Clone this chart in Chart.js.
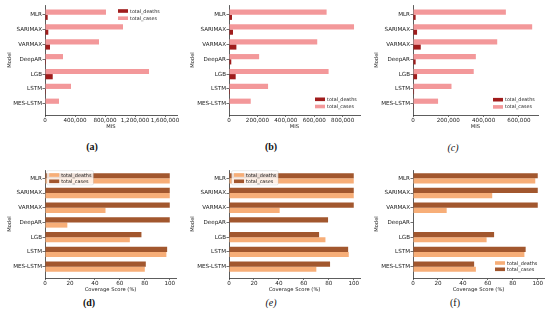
<!DOCTYPE html>
<html>
<head>
<meta charset="utf-8">
<script src="https://cdn.jsdelivr.net/npm/chart.js@4.4.0/dist/chart.umd.min.js"></script>
<style>
  body { margin: 0; background: #fff; }
  #fig { position: relative; width: 550px; height: 322px; overflow: hidden; background: #fff; }
  canvas { position: absolute; }
  .cap { position: absolute; font-family: "Liberation Serif", serif; font-size: 10px; line-height: 10px; color: #111; transform: translateX(-50%); }
</style>
</head>
<body>
<div id="fig">
  <div class="cap" style="left:92px;top:142px;font-weight:bold">(a)</div>
  <div class="cap" style="left:271px;top:142px;font-weight:bold">(b)</div>
  <div class="cap" style="left:453px;top:143px;font-style:italic">(c)</div>
  <div class="cap" style="left:89px;top:298px;font-weight:bold">(d)</div>
  <div class="cap" style="left:271px;top:298px;font-style:italic">(e)</div>
  <div class="cap" style="left:455px;top:298px">(f)</div>
</div>
<script>
const models = ["MLR", "SARIMAX", "VARMAX", "DeepAR", "LGB", "LSTM", "MES-LSTM"];

// MIS, panels (a) (b) (c)
const misDeathsA = [36000, 44000, 67000, 13000, 103000, 12000, 6000];
const misCasesA = [813000, 1040000, 720000, 240000, 1387000, 347000, 187000];
const misDeathsB = [21000, 28000, 52000, 16000, 47000, 7000, 5000];
const misCasesB = [687000, 880000, 621000, 212000, 701000, 275000, 153000];
const misDeathsC = [15000, 23000, 44000, 15000, 23000, 6000, 4000];
const misCasesC = [526000, 675000, 477000, 356000, 344000, 218000, 142000];

// Coverage score (%), panels (d) (e) (f)
const covDeathsD = [100, 100, 48.5, 17.9, 68, 97.3, 80];
const covCasesD = [100, 100, 100, 100, 77.3, 97.9, 80.8];
const covDeathsE = [100, 100, 40.6, 0, 77.3, 96, 70];
const covCasesE = [100, 100, 100, 79.4, 72.2, 95.5, 81];
const covDeathsF = [98, 63.5, 27, 0, 59, 89.3, 50.4];
const covCasesF = [100, 100, 100, 0, 65, 90.3, 49];

const misTicksA = [0, 400000, 800000, 1200000, 1600000];
const misTicksB = [0, 200000, 400000, 600000, 800000];
const misTicksC = [0, 200000, 400000, 600000];
const covTicks = [0, 20, 40, 60, 80, 100];

const FONT = "DejaVu Sans";
const AXIS = "#333";
const TXT = "#1a1a1a";

// legend drawn inside the axes, like matplotlib
const boxLegend = {
  id: "boxLegend",
  afterDraw(chart, args, o) {
    const { ctx, chartArea: a } = chart;
    const items = [1, 0].map(i => chart.data.datasets[i]);
    ctx.save();
    ctx.font = o.size + "px '" + FONT + "'";
    const tw = Math.max(...items.map(d => ctx.measureText(d.label).width));
    const L = a.left + o.x, T = a.top + o.y;
    const w = 14.5 + tw + 2, h = 4.3 + (items.length - 1) * o.sp + 3.6;
    ctx.beginPath();
    ctx.roundRect(L, T, w, h, 1.5);
    ctx.fillStyle = "rgba(255,255,255,0.8)";
    ctx.fill();
    ctx.strokeStyle = o.frame;
    ctx.lineWidth = 0.6;
    ctx.stroke();
    items.forEach((d, i) => {
      const cy = T + 4.3 + i * o.sp;
      ctx.fillStyle = d.backgroundColor;
      ctx.fillRect(L + 2.5, cy - 1.8, 10, 3.6);
      ctx.fillStyle = TXT;
      ctx.textBaseline = "middle";
      ctx.fillText(d.label, L + 14.5, cy + 0.3);
    });
    ctx.restore();
  }
};

function panel(p) {
  const cv = document.createElement("canvas");
  cv.width = p.w; cv.height = p.h;
  cv.style.left = p.left + "px"; cv.style.top = p.top + "px";
  document.getElementById("fig").appendChild(cv);
  const tickFont = { family: FONT, size: 5.6 };
  const titleFont = { family: FONT, size: 5.2, lineHeight: 1 };
  new Chart(cv, {
    type: "bar",
    data: {
      datasets: [
        { label: "total_cases", data: p.cases.map((v, i) => ({ x: v, y: i })), backgroundColor: p.colors[1] },
        { label: "total_deaths", data: p.deaths.map((v, i) => ({ x: v, y: i })), backgroundColor: p.colors[0] }
      ]
    },
    plugins: [boxLegend],
    options: {
      indexAxis: "y",
      responsive: false,
      animation: false,
      devicePixelRatio: 1,
      categoryPercentage: 0.7,
      barPercentage: 1,
      layout: { padding: { left: 0, top: p.padTop, right: p.padRight, bottom: p.padBottom } },
      plugins: {
        legend: { display: false },
        tooltip: { enabled: false },
        boxLegend: p.legend
      },
      scales: {
        x: {
          type: "linear",
          min: 0,
          max: p.max,
          afterBuildTicks: s => { s.ticks = p.ticks.map(v => ({ value: v })); },
          ticks: { callback: v => v.toLocaleString("en-US"), maxRotation: 0, autoSkip: false, font: tickFont, color: TXT, padding: 0.5 },
          grid: { drawOnChartArea: false, tickLength: 2, tickColor: AXIS, tickWidth: 0.7 },
          border: { color: AXIS, width: 0.8 },
          title: { display: true, text: p.title, font: titleFont, color: TXT, padding: 0 },
          afterFit: s => { s.height = 14; s.paddingLeft = 0; s.paddingRight = 0; }
        },
        y: {
          type: "linear",
          reverse: true,
          offset: false,
          min: p.ymin,
          max: p.ymax,
          afterBuildTicks: s => { s.ticks = models.map((m, i) => ({ value: i })); },
          ticks: { callback: v => models[v], autoSkip: false, font: tickFont, color: TXT, padding: 0.5 },
          grid: { offset: false, drawOnChartArea: false, tickLength: 2.5, tickColor: AXIS, tickWidth: 0.7 },
          border: { color: AXIS, width: 0.8 },
          title: { display: true, text: "Model", font: titleFont, color: TXT, padding: { top: p.titlePad, bottom: 0 } },
          afterFit: s => { s.width = p.yW; s.paddingTop = 0; s.paddingBottom = 0; }
        }
      }
    }
  });
}

// [total_deaths, total_cases]
const red = ["#a01c1c", "#f3989a"];
const brown = ["#f7ae78", "#a2572e"];
const topRow = { top: 0, h: 140, padTop: 5, padBottom: 11, ymin: -0.653, ymax: 6.754 };
const botRow = { top: 160, h: 140, padTop: 10, padBottom: 8, ymin: -0.563, ymax: 6.77 };

panel({ ...topRow, left: 0, w: 183, yW: 45, padRight: 6, titlePad: 7.4, max: 1760000, ticks: misTicksA, title: "MIS",
  deaths: misDeathsA, cases: misCasesA, colors: red, legend: { x: 70.5, y: 1.7, sp: 7.2, size: 4.8, frame: "rgba(0,0,0,0)" } });
panel({ ...topRow, left: 183, w: 183, yW: 46, padRight: 6, titlePad: 7.4, max: 922000, ticks: misTicksB, title: "MIS",
  deaths: misDeathsB, cases: misCasesB, colors: red, legend: { x: 83.5, y: 90, sp: 7.2, size: 4.8, frame: "rgba(0,0,0,0)" } });
panel({ ...topRow, left: 366, w: 184, yW: 47, padRight: 12, titlePad: 8.4, max: 708000, ticks: misTicksC, title: "MIS",
  deaths: misDeathsC, cases: misCasesC, colors: red, legend: { x: 77.5, y: 90.4, sp: 7.2, size: 4.8, frame: "rgba(0,0,0,0)" } });

panel({ ...botRow, left: 0, w: 183, yW: 45, padRight: 7, titlePad: 7.4, max: 105, ticks: covTicks, title: "Coverage Score (%)",
  deaths: covDeathsD, cases: covCasesD, colors: brown, legend: { x: 1.7, y: 0.7, sp: 6.3, size: 4.9, frame: "rgba(0,0,0,0.15)" } });
panel({ ...botRow, left: 183, w: 183, yW: 46, padRight: 6, titlePad: 7.4, max: 105, ticks: covTicks, title: "Coverage Score (%)",
  deaths: covDeathsE, cases: covCasesE, colors: brown, legend: { x: 2.5, y: 0.7, sp: 6.3, size: 4.9, frame: "rgba(0,0,0,0.15)" } });
panel({ ...botRow, left: 366, w: 184, yW: 47, padRight: 6, titlePad: 8.4, max: 105, ticks: covTicks, title: "Coverage Score (%)",
  deaths: covDeathsF, cases: covCasesF, colors: brown, legend: { x: 79.5, y: 88.7, sp: 6.3, size: 4.9, frame: "rgba(0,0,0,0)" } });
</script>
</body>
</html>
